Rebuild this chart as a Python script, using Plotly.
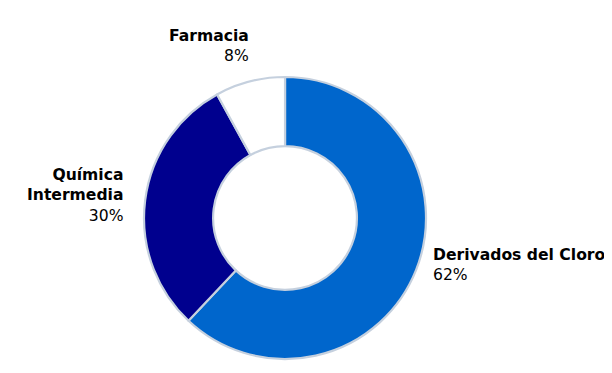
import plotly.graph_objects as go

labels = ["Derivados del Cloro", "Química Intermedia", "Farmacia"]
values = [62, 30, 8]
colors = ["#0066CC", "#00008E", "#FFFFFF"]
label_html = ["<b>Derivados del Cloro</b>", "<b>Química<br>Intermedia</b>", "<b>Farmacia</b>"]
pct_text = ["62%", "30%", "8%"]

W, H = 604, 365

fig = go.Figure()
fig.add_trace(go.Pie(
    labels=labels, values=values, sort=False, direction="clockwise", rotation=0,
    hole=0.51, textinfo="none", hoverinfo="label+percent",
    marker=dict(colors=colors, line=dict(color="#C5D0DE", width=2.2)),
    domain=dict(x=[0.2252, 0.6921], y=[0.0384, 0.8110]),
    showlegend=False,
))

font = dict(family="DejaVu Sans, Verdana, sans-serif", size=15.6, color="#000000")
fig.add_annotation(x=243, y=348, xref="x", yref="y", text=label_html[2] + "<br>" + pct_text[2],
                   showarrow=False, xanchor="right", yanchor="top", align="right", font=font)
fig.add_annotation(x=117, y=209, xref="x", yref="y", text=label_html[1] + "<br>" + pct_text[1],
                   showarrow=False, xanchor="right", yanchor="top", align="right", font=font)
fig.add_annotation(x=423, y=129, xref="x", yref="y", text=label_html[0] + "<br>" + pct_text[0],
                   showarrow=False, xanchor="left", yanchor="top", align="left", font=font)

fig.update_xaxes(range=[0, W], visible=False)
fig.update_yaxes(range=[0, H], visible=False)
fig.update_layout(width=W, height=H, margin=dict(l=0, r=0, t=0, b=0),
                  paper_bgcolor="white", plot_bgcolor="white")
fig.write_html("out.html")
